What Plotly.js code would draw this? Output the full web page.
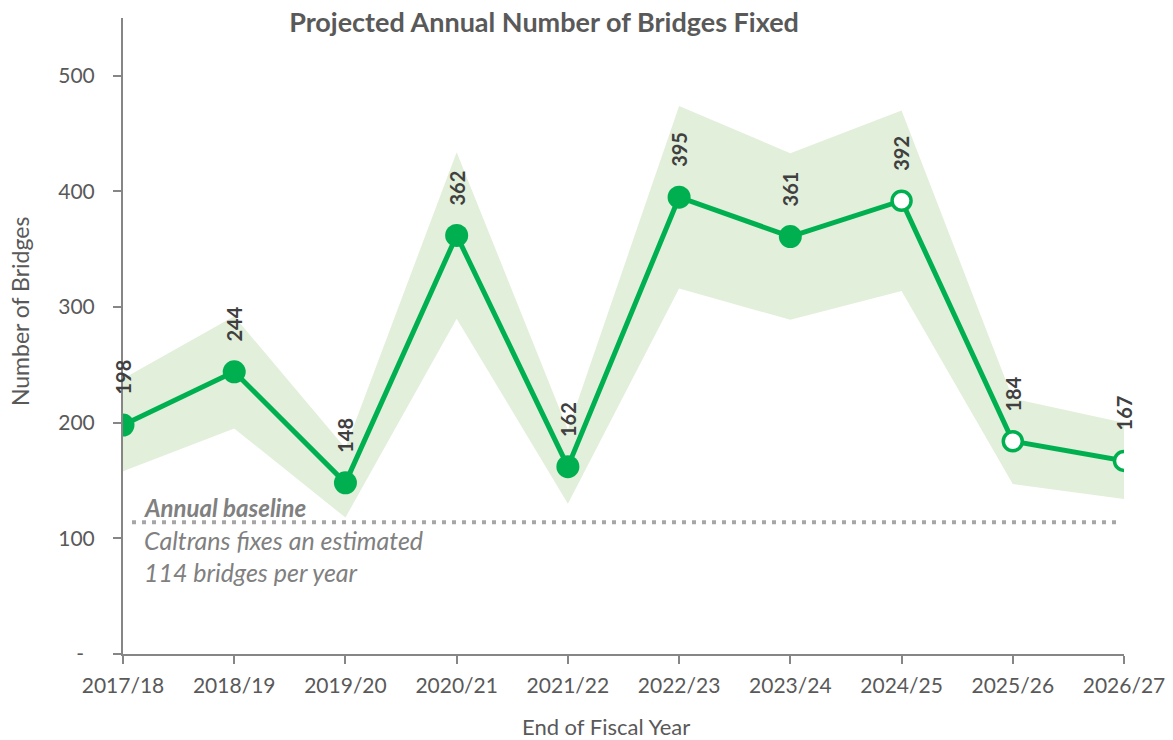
<!DOCTYPE html>
<html>
<head>
<meta charset="utf-8">
<script src="https://cdn.plot.ly/plotly-3.0.1.min.js"></script>
<style>html,body{margin:0;padding:0;background:#fff;}#chart{width:1173px;height:740px;}</style>
</head>
<body>
<div id="chart"></div>
<script>
// ---- Data ----
var categories = ['2017/18','2018/19','2019/20','2020/21','2021/22','2022/23','2023/24','2024/25','2025/26','2026/27'];
var bridgesFixed = [198, 244, 148, 362, 162, 395, 361, 392, 184, 167];
var bandUpper = [238, 292, 178, 434, 194, 474, 433, 470, 221, 200];
var bandLower = [158, 195, 118, 290, 130, 316, 289, 314, 147, 134];
var isProjected = [false, false, false, false, false, false, false, true, true, true];
var baselineValue = 114;
var yTickVals = [0, 100, 200, 300, 400, 500];
var yTickText = ['-\u00a0\u00a0', '100', '200', '300', '400', '500'];

// ---- Styles ----
var GREEN = '#00B050';
var BAND = '#E2EFDA';
var AXIS = '#868686';
var TXT = '#595959';
var FONT = 'Lato, "Open Sans", sans-serif';

var traces = [
  {x: categories, y: bandLower, type: 'scatter', mode: 'lines', line: {width: 0, color: BAND}, hoverinfo: 'skip', showlegend: false},
  {x: categories, y: bandUpper, type: 'scatter', mode: 'lines', line: {width: 0, color: BAND}, fill: 'tonexty', fillcolor: BAND, hoverinfo: 'skip', showlegend: false},
  {x: categories, y: bridgesFixed, type: 'scatter', mode: 'lines+markers', showlegend: false,
   line: {color: GREEN, width: 5},
   marker: {
     opacity: 1,
     size: isProjected.map(function(p){ return p ? 19 : 23; }),
     color: isProjected.map(function(p){ return p ? '#ffffff' : GREEN; }),
     line: {color: GREEN, width: isProjected.map(function(p){ return p ? 3.5 : 0; })}
   }}
];

var annotations = bridgesFixed.map(function(v, i){
  return {x: categories[i], y: v, xref: 'x', yref: 'y', text: '<b>' + v + '</b>', showarrow: false,
          textangle: -90, yanchor: 'bottom', xanchor: 'center', yshift: 28,
          font: {family: FONT, size: 20, color: '#404040'}};
});
annotations.push(
  {xref: 'paper', yref: 'paper', x: 0.019, y: 0.231, xanchor: 'left', yanchor: 'middle', showarrow: false,
   text: '<b><i>Annual baseline</i></b>', font: {family: FONT, size: 24, color: '#808080'}},
  {xref: 'paper', yref: 'paper', x: 0.019, y: 0.179, xanchor: 'left', yanchor: 'middle', showarrow: false,
   text: '<i>Caltrans fixes an estimated</i>', font: {family: FONT, size: 25, color: '#808080'}},
  {xref: 'paper', yref: 'paper', x: 0.019, y: 0.129, xanchor: 'left', yanchor: 'middle', showarrow: false,
   text: '<i>' + baselineValue + ' bridges per year</i>', font: {family: FONT, size: 25, color: '#808080'}},
  {xref: 'paper', yref: 'paper', x: -0.103, y: 0.539, xanchor: 'center', yanchor: 'middle', showarrow: false,
   textangle: -90, text: 'Number of Bridges', font: {family: FONT, size: 23, color: TXT}},
  {xref: 'paper', yref: 'paper', x: 0.4825, y: -0.1135, xanchor: 'center', yanchor: 'middle', showarrow: false,
   text: 'End of Fiscal Year', font: {family: FONT, size: 22, color: TXT}}
);

var layout = {
  width: 1173, height: 740,
  margin: {l: 123, r: 49, t: 18, b: 86},
  paper_bgcolor: '#ffffff', plot_bgcolor: '#ffffff',
  font: {family: FONT, color: TXT},
  title: {text: '<b>Projected Annual Number of Bridges Fixed</b>', xref: 'paper', x: 0.4206, xanchor: 'center',
          yref: 'container', y: 0.970, yanchor: 'middle', font: {family: FONT, size: 27, color: TXT}},
  xaxis: {type: 'category', range: [0, categories.length - 1], showgrid: false, zeroline: false,
          showline: true, linecolor: AXIS, linewidth: 2, ticks: 'outside', ticklen: 8, tickwidth: 2, tickcolor: AXIS,
          tickfont: {family: FONT, size: 21, color: TXT}, ticklabelstandoff: 4, fixedrange: true},
  yaxis: {range: [0, 550], tickvals: yTickVals, ticktext: yTickText, showgrid: false, zeroline: false,
          showline: true, linecolor: AXIS, linewidth: 2, ticks: 'outside', ticklen: 8, tickwidth: 2, tickcolor: AXIS,
          tickfont: {family: FONT, size: 21, color: TXT}, ticklabelstandoff: 14, fixedrange: true},
  shapes: [{type: 'line', xref: 'paper', yref: 'y', x0: 0.009, x1: 0.993, y0: baselineValue, y1: baselineValue,
            line: {color: '#A6A6A6', width: 4, dash: '4px,6px'}, layer: 'below'}],
  annotations: annotations,
  showlegend: false
};

Plotly.newPlot('chart', traces, layout, {displayModeBar: false, staticPlot: true});
</script>
</body>
</html>
